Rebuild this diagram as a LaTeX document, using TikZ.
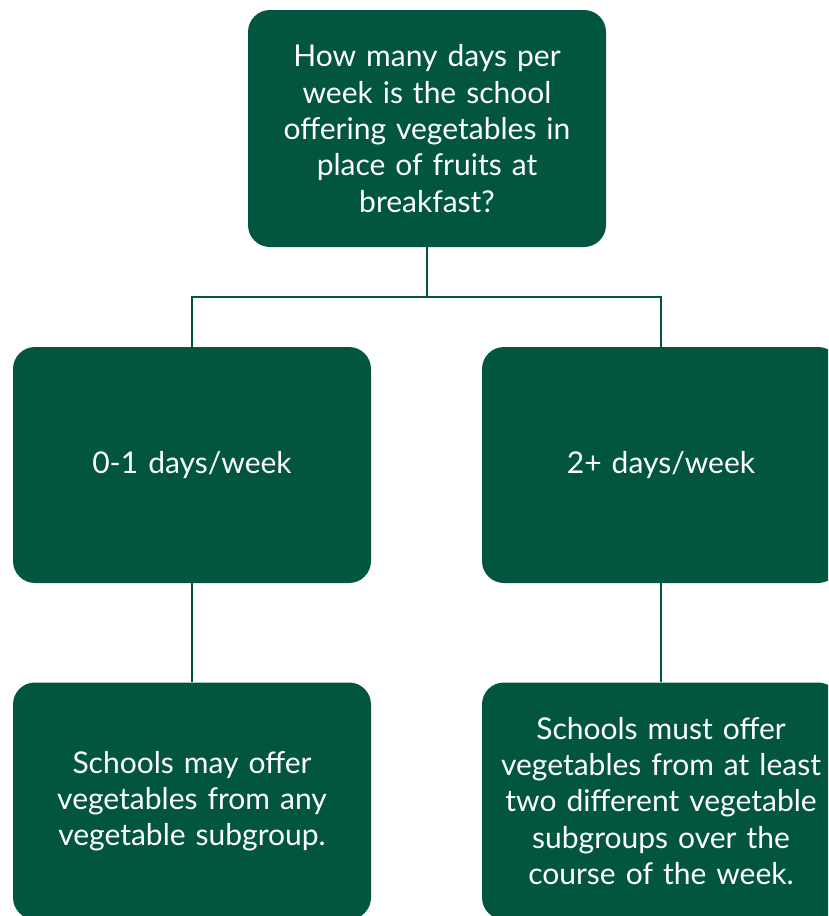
\documentclass[tikz,border=0pt]{standalone}
\usepackage{fontspec}
\setmainfont{Lato}
\definecolor{boxgreen}{HTML}{02563F}
\begin{document}
\begin{tikzpicture}[x=1pt,y=-1pt,
  greenbox/.style={fill=boxgreen,rounded corners=22pt,minimum width=358pt,minimum height=237pt,
    text=white,align=center,font=\fontsize{30}{36.3}\selectfont,inner sep=0pt,text width=350pt},
  link/.style={draw=boxgreen,line width=2.2pt}]
\useasboundingbox (0,0) rectangle (828,916);
\clip (0,0) rectangle (828,916);
\node[greenbox] (q) at (427,128.5) {How many days per\\week is the school\\offering vegetables in\\place of fruits at\\breakfast?};
\node[greenbox,minimum height=236pt] (a) at (192,465) {0-1 days/week};
\node[greenbox,minimum height=236pt] (b) at (661,465) {2+ days/week};
\node[greenbox] (c) at (192,801) {Schools may offer\\vegetables from any\\vegetable subgroup.};
\node[greenbox] (d) at (661,801) {Schools must offer\\vegetables from at least\\two different vegetable\\subgroups over the\\course of the week.};
\coordinate (j) at (427,297);
\draw[link] (q.south) -- (j);
\draw[link] (a.north) -- (a.north |- j) -- (b.north |- j) -- (b.north);
\draw[link] (a.south) -- (c.north);
\draw[link] (b.south) -- (d.north);
\end{tikzpicture}
\end{document}
